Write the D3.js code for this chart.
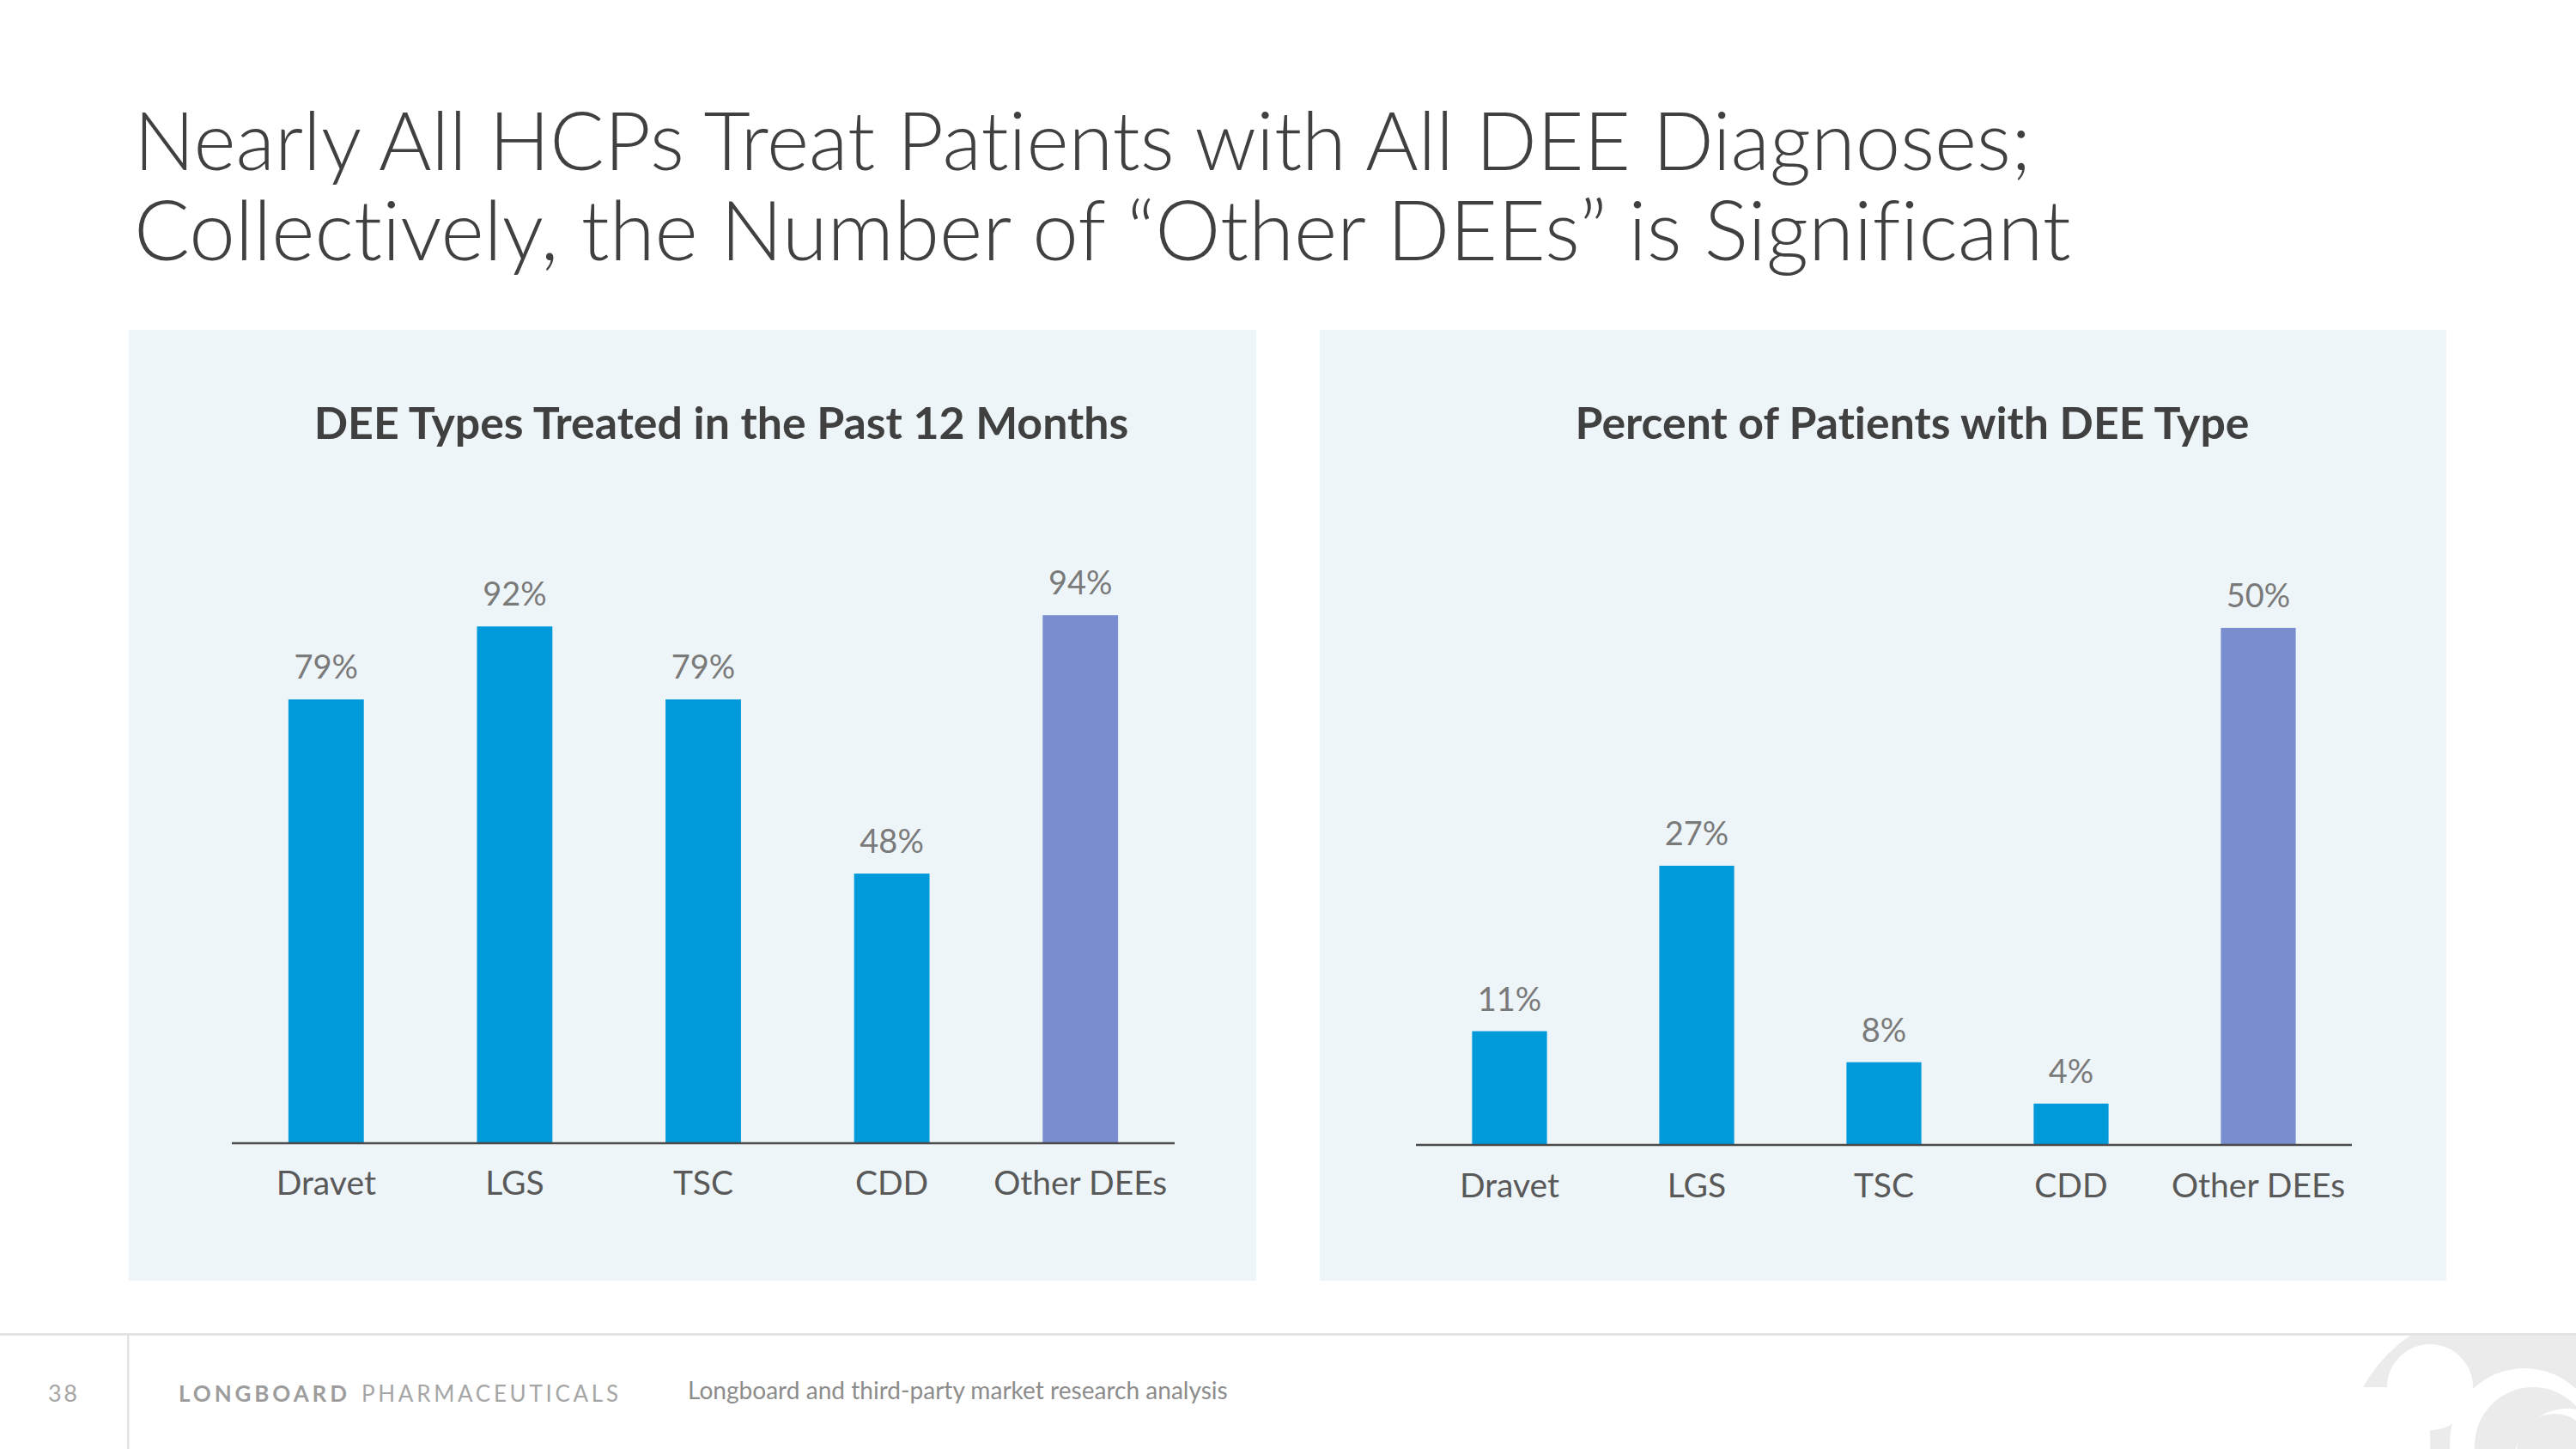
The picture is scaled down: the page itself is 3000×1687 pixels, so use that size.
<!DOCTYPE html>
<html>
<head>
<meta charset="utf-8">
<script src="https://cdn.jsdelivr.net/npm/d3@7"></script>
<style>
  body { margin: 0; background: #fff; }
  svg { display: block; }
  text { font-family: Lato, "Open Sans", sans-serif; font-variant-ligatures: none; }
</style>
</head>
<body>
<script>
const categories = ['Dravet', 'LGS', 'TSC', 'CDD', 'Other DEEs'];
const treatedPct = [79, 92, 79, 48, 94];
const patientPct = [11, 27, 8, 4, 50];
const titleLines = ['Nearly All HCPs Treat Patients with All DEE Diagnoses;',
                    'Collectively, the Number of \u201cOther DEEs\u201d is Significant'];

const width = 3000;
const height = 1687;
const blue = '#0099da';
const purple = '#798dcf';

const svg = d3.select('body').append('svg')
  .attr('width', width)
  .attr('height', height);

// stretch a text's font size so it spans the given width
function fit(sel, w) {
  const len = sel.node().getComputedTextLength();
  const fs = parseFloat(sel.attr('font-size'));
  sel.attr('font-size', fs * w / len);
  return sel;
}

// slide title
titleLines.forEach((t, i) => {
  const txt = svg.append('text')
    .attr('x', 156)
    .attr('y', [198, 303][i])
    .attr('font-size', 86)
    .attr('font-weight', 300)
    .attr('fill', '#404040')
    .text(t);
  fit(txt, [2210, 2256][i]);
});

const panels = [
  { title: 'DEE Types Treated in the Past 12 Months', values: treatedPct, max: 100,
    x0: 150, x1: 1463, ax0: 270, ax1: 1368, base: 1331, top: 677, tc: 840, tw: 949, labelY: 1391 },
  { title: 'Percent of Patients with DEE Type', values: patientPct, max: 50,
    x0: 1537, x1: 2849, ax0: 1649, ax1: 2739, base: 1333, top: 731, tc: 2227, tw: 785, labelY: 1394 }
];

panels.forEach(p => {
  const g = svg.append('g');
  g.append('rect')
    .attr('x', p.x0).attr('y', 384)
    .attr('width', p.x1 - p.x0).attr('height', 1491 - 384)
    .attr('fill', '#eef5f9');

  const t = g.append('text')
    .attr('x', p.tc)
    .attr('y', 511)
    .attr('text-anchor', 'middle')
    .attr('font-size', 48)
    .attr('font-weight', 700)
    .attr('fill', '#404040')
    .text(p.title);
  fit(t, p.tw);

  const x = d3.scaleBand()
    .domain(categories)
    .range([p.ax0, p.ax1])
    .paddingInner(0.6)
    .paddingOuter(0.3);

  const y = d3.scaleLinear()
    .domain([0, p.max])
    .range([p.base, p.top]);

  const data = categories.map((c, i) => ({ cat: c, v: p.values[i] }));

  g.selectAll('.bar')
    .data(data)
    .enter()
    .append('rect')
    .attr('class', 'bar')
    .attr('x', d => x(d.cat))
    .attr('y', d => y(d.v))
    .attr('width', x.bandwidth())
    .attr('height', d => y(0) - y(d.v))
    .attr('fill', d => d.cat === 'Other DEEs' ? purple : blue);

  g.selectAll('.val')
    .data(data)
    .enter()
    .append('text')
    .attr('class', 'val')
    .attr('x', d => x(d.cat) + x.bandwidth() / 2)
    .attr('y', d => y(d.v) - 24)
    .attr('text-anchor', 'middle')
    .attr('font-size', 38)
    .attr('fill', '#7a7a7a')
    .text(d => d.v + '%');

  const axis = g.append('g')
    .attr('transform', `translate(0, ${p.base})`)
    .call(d3.axisBottom(x).tickSize(0).tickPadding(0));
  axis.select('.domain')
    .attr('d', `M${p.ax0},0H${p.ax1}`)
    .attr('stroke', '#4a4a4a')
    .attr('stroke-width', 2.5);
  axis.selectAll('.tick text')
    .attr('dy', 0)
    .attr('y', p.labelY - p.base)
    .attr('font-size', 39)
    .attr('font-family', 'Lato, sans-serif')
    .attr('fill', '#595959');
});

// footer
svg.append('rect')
  .attr('x', 0).attr('y', 1552)
  .attr('width', width).attr('height', 3)
  .attr('fill', '#e3e3e3');
svg.append('rect')
  .attr('x', 148).attr('y', 1555)
  .attr('width', 2.5).attr('height', height - 1555)
  .attr('fill', '#e3e3e3');

svg.append('text')
  .attr('x', 56).attr('y', 1632)
  .attr('font-size', 27)
  .attr('fill', '#a6a6a6')
  .attr('textLength', 34)
  .attr('lengthAdjust', 'spacing')
  .text('38');

svg.append('text')
  .attr('x', 208).attr('y', 1632)
  .attr('font-size', 26)
  .attr('font-weight', 700)
  .attr('fill', '#9d9d9d')
  .attr('textLength', 196)
  .attr('lengthAdjust', 'spacing')
  .text('LONGBOARD');

svg.append('text')
  .attr('x', 421).attr('y', 1632)
  .attr('font-size', 26)
  .attr('fill', '#a6a6a6')
  .attr('textLength', 299)
  .attr('lengthAdjust', 'spacing')
  .text('PHARMACEUTICALS');

const src = svg.append('text')
  .attr('x', 801).attr('y', 1629)
  .attr('font-size', 24)
  .attr('fill', '#8c8c8c')
  .text('Longboard and third-party market research analysis');
fit(src, 629);

// wave logo, bottom right corner
const logo = svg.append('g');
logo.append('clipPath').attr('id', 'logoClip')
  .append('rect')
  .attr('x', 2700).attr('y', 1555)
  .attr('width', 300).attr('height', height - 1555);
const lg = logo.append('g').attr('clip-path', 'url(#logoClip)');
const waves = [
  { cx: 2905, cy: 1700, r: 175, c: '#ebebeb' },
  { cx: 2830, cy: 1615, r: 50, c: '#ffffff' },
  { cx: 2940, cy: 1680, r: 87, c: '#ffffff' },
  { cx: 2950, cy: 1683, r: 68, c: '#ebebeb' },
  { cx: 2990, cy: 1702, r: 62, c: '#ffffff' },
  { cx: 2975, cy: 1690, r: 44, c: '#ebebeb' }
];
lg.selectAll('circle')
  .data(waves)
  .enter()
  .append('circle')
  .attr('cx', d => d.cx)
  .attr('cy', d => d.cy)
  .attr('r', d => d.r)
  .attr('fill', d => d.c);
lg.append('rect')
  .attr('x', 2700).attr('y', 1615)
  .attr('width', 130).attr('height', 80)
  .attr('fill', '#ffffff');
</script>
</body>
</html>
